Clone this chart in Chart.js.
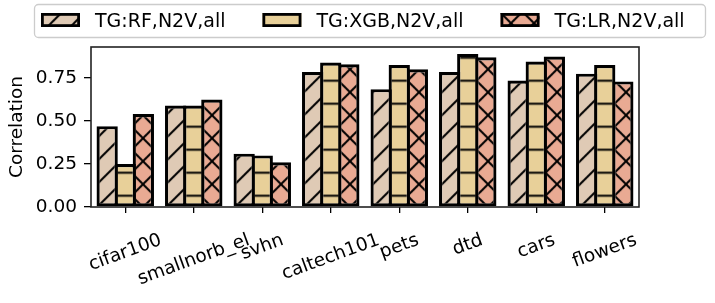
<!DOCTYPE html>
<html>
<head>
<meta charset="utf-8">
<script src="https://cdn.jsdelivr.net/npm/chart.js@4.4.0/dist/chart.umd.min.js"></script>
<style>
  html, body { margin: 0; padding: 0; background: #fff; }
</style>
</head>
<body>
<canvas id="grafico" width="715" height="303"></canvas>
<script>
// dados
const categorias = ["cifar100", "smallnorb_el", "svhn", "caltech101", "pets", "dtd", "cars", "flowers"];
const valoresRF = [0.47, 0.59, 0.31, 0.785, 0.685, 0.785, 0.735, 0.775];
const valoresXGB = [0.25, 0.59, 0.30, 0.84, 0.825, 0.89, 0.845, 0.825];
const valoresLR = [0.54, 0.625, 0.26, 0.83, 0.80, 0.87, 0.875, 0.73];
const nomesSeries = ["TG:RF,N2V,all", "TG:XGB,N2V,all", "TG:LR,N2V,all"];
const ticksY = [0, 0.25, 0.5, 0.75];

const FONTE = '"DejaVu Sans", sans-serif';

// hachura estilo matplotlib num tile de 23px
function criarHachura(cor, tipo) {
  const s = 23;
  const tile = document.createElement("canvas");
  tile.width = s;
  tile.height = s;
  const g = tile.getContext("2d");
  g.fillStyle = cor;
  g.fillRect(0, 0, s, s);
  g.strokeStyle = "#000";
  g.lineWidth = 2;
  g.beginPath();
  if (tipo === "-") {
    g.moveTo(0, 11.5);
    g.lineTo(s, 11.5);
  }
  if (tipo === "/" || tipo === "x") {
    for (const k of [0, s, 2 * s]) {
      g.moveTo(-s, k + s);
      g.lineTo(2 * s, k - 2 * s);
    }
  }
  if (tipo === "x") {
    for (const k of [-s, 0, s]) {
      g.moveTo(-s, k - s);
      g.lineTo(2 * s, k + 2 * s);
    }
  }
  g.stroke();
  const ctxTmp = document.createElement("canvas").getContext("2d");
  const padrao = ctxTmp.createPattern(tile, "repeat");
  padrao.setTransform(new DOMMatrix([1, 0, 0, 1, 5, 0.2]));
  return padrao;
}

const padroes = [
  criarHachura("#dfcab5", "/"),
  criarHachura("#e8d099", "-"),
  criarHachura("#e9aa93", "x"),
];

// eixos em volta da area (como os spines do matplotlib)
const molduraPlugin = {
  id: "moldura",
  afterDatasetsDraw(chart) {
    const { ctx, chartArea: a } = chart;
    ctx.save();
    ctx.strokeStyle = "#222";
    ctx.lineWidth = 1.6;
    ctx.strokeRect(a.left, a.top, a.right - a.left, a.bottom - a.top);
    ctx.restore();
  },
};

// rotulos do eixo x girados 20 graus, centrados no tick
const rotulosPlugin = {
  id: "rotulos",
  afterDraw(chart) {
    const c = chart.ctx;
    const escalaX = chart.scales.x;
    const ang = (20 * Math.PI) / 180;
    c.save();
    c.font = "18.5px " + FONTE;
    c.fillStyle = "#000";
    c.textAlign = "center";
    c.textBaseline = "middle";
    categorias.forEach((nome, i) => {
      const x = escalaX.getPixelForTick(i);
      const w = c.measureText(nome).width;
      const topo = chart.chartArea.bottom + 24;
      const cy = topo + (w * Math.sin(ang) + 18.5 * Math.cos(ang)) / 2;
      c.save();
      c.translate(x, cy);
      c.rotate(-ang);
      c.fillText(nome, 0, 0);
      c.restore();
    });
    c.restore();
  },
};

// legenda com moldura arredondada
const legendaPlugin = {
  id: "legendaMoldura",
  afterDraw(chart) {
    const c = chart.ctx;
    c.save();
    const x0 = 34.5, y0 = 4.5, w = 671, h = 33, r = 4;
    c.beginPath();
    c.moveTo(x0 + r, y0);
    c.arcTo(x0 + w, y0, x0 + w, y0 + h, r);
    c.arcTo(x0 + w, y0 + h, x0, y0 + h, r);
    c.arcTo(x0, y0 + h, x0, y0, r);
    c.arcTo(x0, y0, x0 + w, y0, r);
    c.closePath();
    c.fillStyle = "rgba(255,255,255,0.8)";
    c.fill();
    c.strokeStyle = "#cccccc";
    c.lineWidth = 1.3;
    c.stroke();

    c.font = "19px " + FONTE;
    c.textBaseline = "alphabetic";
    let x = 41;
    nomesSeries.forEach((nome, i) => {
      c.fillStyle = padroes[i];
      c.fillRect(x, 13, 39, 14);
      c.strokeStyle = "#000";
      c.lineWidth = 2.8;
      c.strokeRect(x + 1.4, 14.4, 36.2, 11.2);
      c.fillStyle = "#000";
      c.fillText(nome, x + 54, 27.3);
      x += 54 + c.measureText(nome).width + 37;
    });
    c.restore();
  },
};

const ctx = document.getElementById("grafico");

const series = [valoresRF, valoresXGB, valoresLR];

new Chart(ctx, {
  type: "bar",
  data: {
    labels: categorias,
    datasets: series.map((valores, i) => ({
      label: nomesSeries[i],
      data: valores,
      backgroundColor: padroes[i],
      borderColor: "#000",
      borderWidth: 3.2,
      borderSkipped: false,
      categoryPercentage: 0.792,
      barPercentage: 1.177,
    })),
  },
  options: {
    responsive: false,
    devicePixelRatio: 1,
    animation: false,
    layout: { padding: { left: 0, right: 76, top: 47, bottom: 0 } },
    plugins: {
      legend: { display: false },
      tooltip: { enabled: false },
    },
    scales: {
      x: {
        grid: {
          offset: false,
          drawOnChartArea: false,
          color: "#000",
          lineWidth: 1.3,
          tickLength: 6,
        },
        border: { display: false },
        ticks: { display: false },
        afterFit(scale) {
          scale.height = 96;
        },
      },
      y: {
        min: 0,
        max: 0.93,
        grid: {
          drawOnChartArea: false,
          color: "#000",
          lineWidth: 1.3,
          tickLength: 7,
        },
        border: { display: false },
        ticks: {
          padding: 7,
          color: "#000",
          font: { family: FONTE, size: 18.5 },
          callback: (v) => Number(v).toFixed(2),
        },
        afterBuildTicks(scale) {
          scale.ticks = ticksY.map((v) => ({ value: v }));
        },
        afterFit(scale) {
          scale.width = 91;
        },
        title: {
          display: true,
          text: "Correlation",
          color: "#000",
          font: { family: FONTE, size: 18.5 },
          padding: { top: 6, bottom: 0 },
        },
      },
    },
  },
  plugins: [molduraPlugin, rotulosPlugin, legendaPlugin],
});
</script>
</body>
</html>
